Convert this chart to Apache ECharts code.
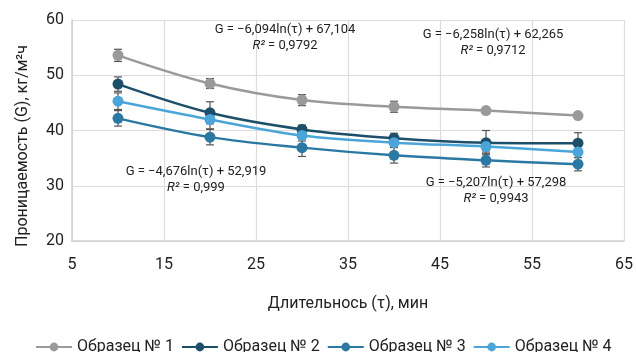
<!DOCTYPE html>
<html><head><meta charset="utf-8">
<script src="https://cdn.jsdelivr.net/npm/echarts@6/dist/echarts.min.js"></script>
<style>html,body{margin:0;padding:0;background:#fff}#c{width:636px;height:352px}</style>
</head><body><div id="c"></div>
<script>
var durations = [10, 20, 30, 40, 50, 60];
var seriesNames = ['Образец № 1', 'Образец № 2', 'Образец № 3', 'Образец № 4'];
var s1 = [53.6, 48.5, 45.5, 44.3, 43.6, 42.7];
var s2 = [48.4, 43.2, 40.2, 38.6, 37.8, 37.7];
var s3 = [42.2, 38.8, 36.9, 35.5, 34.6, 33.9];
var s4 = [45.3, 42.0, 39.1, 37.8, 37.1, 36.1];
var e1 = [1.1, 0.9, 1.0, 1.0, 0.5, 0.5];
var e2 = [1.3, 2.0, 0.8, 0.9, 2.2, 1.9];
var e3 = [1.4, 1.4, 1.6, 1.4, 1.2, 1.2];
var e4 = [1.5, 1.7, 1.0, 0.8, 1.0, 1.0];
var xTicks = [5, 15, 25, 35, 45, 55, 65];
var yTicks = [20, 30, 40, 50, 60];
var yTitle = 'Проницаемость (G), кг/м²ч';
var equations = [
  ['G = −6,094ln(τ) + 67,104', '0,9792'],
  ['G = −6,258ln(τ) + 62,265', '0,9712'],
  ['G = −4,676ln(τ) + 52,919', '0,999'],
  ['G = −5,207ln(τ) + 57,298', '0,9943']
];
var colors = ['#9a9a9a', '#1d4f6b', '#2b79a3', '#4ba5d8'];
var vals = [s1, s2, s3, s4];
var errs = [e1, e2, e3, e4];

var chart = echarts.init(document.getElementById('c'), null, {renderer: 'canvas'});
var FONT = 'Roboto';
var series = [];
vals.forEach(function (v, i) {
  series.push({
    name: seriesNames[i], type: 'line', smooth: 0.35,
    data: durations.map(function (d, k) { return [d, v[k]]; }),
    symbol: 'circle', symbolSize: 11,
    itemStyle: {color: colors[i]},
    lineStyle: {color: colors[i], width: 2.5},
    z: 3
  });
});
errs.forEach(function (e, i) {
  series.push({
    type: 'custom', name: 'err' + i, z: 2, silent: true,
    data: durations.map(function (d, k) { return [d, vals[i][k] - e[k], vals[i][k] + e[k]]; }),
    renderItem: function (params, api) {
      var lo = api.coord([api.value(0), api.value(1)]);
      var hi = api.coord([api.value(0), api.value(2)]);
      var w = 4;
      var st = {stroke: '#555', lineWidth: 1.2};
      return {type: 'group', children: [
        {type: 'line', shape: {x1: lo[0], y1: lo[1], x2: hi[0], y2: hi[1]}, style: st},
        {type: 'line', shape: {x1: lo[0] - w, y1: lo[1], x2: lo[0] + w, y2: lo[1]}, style: st},
        {type: 'line', shape: {x1: hi[0] - w, y1: hi[1], x2: hi[0] + w, y2: hi[1]}, style: st}
      ]};
    }
  });
});

var annPos = [[285, 38], [493, 43], [196, 180], [496, 191]];
var graphics = [{
  type: 'text', x: 23, y: 146, rotation: Math.PI / 2, z: 10,
  style: {text: yTitle, align: 'center', verticalAlign: 'middle',
    font: '16px Roboto', fill: '#222'}
}];
equations.forEach(function (eq, i) {
  graphics.push({
    type: 'text', x: annPos[i][0], y: annPos[i][1], z: 10,
    style: {
      text: '{a|' + eq[0] + '}\n{r|R²}{a| = ' + eq[1] + '}',
      align: 'center', verticalAlign: 'middle',
      rich: {
        a: {fontFamily: FONT, fontSize: 13, fill: '#222', lineHeight: 16},
        r: {fontFamily: FONT, fontSize: 13, fill: '#222', fontStyle: 'italic', lineHeight: 16}
      }
    }
  });
});

chart.setOption({
  animation: false,
  color: colors,
  textStyle: {fontFamily: FONT},
  grid: {left: 72, right: 10, top: 20, bottom: 111, containLabel: false},
  legend: {
    top: 339, left: 35, padding: 0, itemWidth: 36, itemHeight: 11, itemGap: 7,
    data: seriesNames,
    textStyle: {fontFamily: FONT, fontSize: 16, color: '#222'}
  },
  xAxis: {
    type: 'value', min: 5, max: 65, interval: 10,
    name: 'Длительнось (τ), мин', nameLocation: 'middle', nameGap: 55,
    nameTextStyle: {fontFamily: FONT, fontSize: 16, color: '#222'},
    axisLine: {show: true, lineStyle: {color: '#d0d0d0', width: 1.5}},
    axisTick: {show: false},
    axisLabel: {fontFamily: FONT, fontSize: 16, color: '#222', margin: 16,
      formatter: function (v) { return xTicks.indexOf(v) >= 0 ? String(v) : ''; }},
    splitLine: {show: true, lineStyle: {color: '#dcdcdc', width: 1.2}}
  },
  yAxis: {
    type: 'value', min: 20, max: 60, interval: 10,
    axisLine: {show: true, lineStyle: {color: '#d0d0d0', width: 1.5}},
    axisTick: {show: false},
    axisLabel: {fontFamily: FONT, fontSize: 16, color: '#222', margin: 8,
      formatter: function (v) { return yTicks.indexOf(v) >= 0 ? String(v) : ''; }},
    splitLine: {show: true, lineStyle: {color: '#dcdcdc', width: 1.2}}
  },
  graphic: graphics,
  series: series
});
</script></body></html>
